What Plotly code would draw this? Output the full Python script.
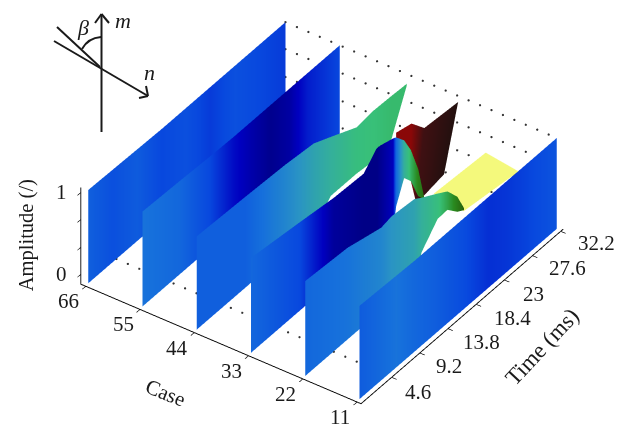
import numpy as np
import plotly.graph_objects as go

case_ticks = [66, 55, 44, 33, 22, 11]
time_ticks = [4.6, 9.2, 13.8, 18.4, 23, 27.6, 32.2]
time_labels = ["4.6", "9.2", "13.8", "18.4", "23", "27.6", "32.2"]
amp_ticks = [0, 0.33, 0.67, 1]
amp_labels = ["0", "", "", "1"]
FLOOR = -0.11

t66 = [0, 4, 8, 12, 16, 20, 24, 28, 32.2]
top66 = [1.03, 1.02, 1.01, 1, 1, 1, 1, 1, 1]
col66 = [.28, .24, .27, .22, .24, .2, .24, .22, .2]

t55 = [0, 6, 11, 15, 18, 21, 24, 27, 32.2]
top55 = [1.05, 1.03, 1.01, 1, 1, 1, 1, 1, 1]
col55 = [.33, .3, .22, .12, .07, .03, .06, .15, .22]

t44 = [0, 8, 14.5, 19.1, 21.9, 26.1, 28.4, 30.6, 32.2]
case44 = [44, 44, 44, 44, 44, 44, 43.5, 42.6, 41.4]
top44 = [1.03, 1, .97, .93, .83, .675, .74, .8, .88]
low44 = [FLOOR, FLOOR, FLOOR, FLOOR, .11, .11, .125, .26, .86]
col44 = [.28, .28, .38, .46, .5, .55, .56, .57, .57]

t33 = [0, 8, 13.5, 18.4, 20.6, 23.2, 23.7, 25, 26.1, 27.3, 28.3]
top33 = [1.05, .97, .91, .89, 1.07, 1.01, .99, .87, .68, .37, -.05]
low33 = [FLOOR, FLOOR, FLOOR, FLOOR, FLOOR, FLOOR, .15, .41, .30, .04, -.06]
col33 = [.3, .22, .05, .02, .02, .1, .3, .5, .58, .65, .68]

tail33_top_t = [24.5, 27, 29.1, 32.2]
tail33_low_t = [24.5, 26.8, 27.8, 29.9]
tail33_case = [34, 34, 34, 31]
tail33_top = [.97, .92, .73, .925]
tail33_low = [.76, .26, FLOOR, .19]
tail33_col = [.84, .84, .93, 1]

t22 = [0, 6.9, 12.4, 14.1, 17.8, 19, 20.8, 21.6, 22.4, 23.5]
case22 = [22, 22, 22, 22, 22, 22, 21, 20, 19, 19]
top22 = [1.05, 1.01, .9, .93, .9, .84, .8, .8, .71, .5]
low22 = [FLOOR, FLOOR, FLOOR, FLOOR, FLOOR, .175, .49, .575, .525, .475]
col22 = [.3, .33, .38, .42, .46, .5, .55, .6, .66, .7]

plateau_case = [[26, 25.4], [19.2, 18]]
plateau_time = [[24.2, 32.2], [23.6, 31.6]]
plateau_amp = 0.45

t11 = [0, 3, 6, 9, 13, 17, 21, 24, 27, 32.2]
top11 = [1.03, 1.02, 1.01, 1, 1, 1, 1, 1, 1, 1]
col11 = [.27, .3, .33, .3, .27, .23, .18, .19, .21, .25]

scale = [
    [0, "#00007a"], [.1, "#0000c0"], [.22, "#0848de"], [.32, "#1670dc"],
    [.42, "#2a94c4"], [.5, "#34b09a"], [.56, "#38c078"], [.64, "#2a8a20"],
    [.7, "#28600c"], [.78, "#8a1a0a"], [.84, "#8c0808"], [.93, "#401012"],
    [1, "#24100f"],
]
SERIF = "Liberation Serif"


def ribbon(case, t_top, t_low, top, low, col):
    n = len(t_top)
    case = [case] * n if np.isscalar(case) else case
    low = [low] * n if np.isscalar(low) else low
    return go.Surface(
        x=[case, case], y=[t_low, t_top], z=[low, top],
        surfacecolor=[col, col], cmin=0, cmax=1, colorscale=scale,
        showscale=False, hoverinfo="skip",
        lighting=dict(ambient=1, diffuse=0, specular=0, fresnel=0),
    )


fig = go.Figure()
fig.add_trace(ribbon(66, t66, t66, top66, FLOOR, col66))
fig.add_trace(ribbon(55, t55, t55, top55, FLOOR, col55))
fig.add_trace(ribbon(case44, t44, t44, top44, low44, col44))
fig.add_trace(ribbon(tail33_case, tail33_top_t, tail33_low_t, tail33_top, tail33_low, tail33_col))
fig.add_trace(ribbon(33, t33, t33, top33, low33, col33))
fig.add_trace(go.Surface(
    x=plateau_case, y=plateau_time, z=[[plateau_amp] * 2] * 2,
    surfacecolor=[[1, 1], [1, 1]], cmin=0, cmax=1,
    colorscale=[[0, "#f4f97c"], [1, "#f4f97c"]], showscale=False, hoverinfo="skip",
    lighting=dict(ambient=1, diffuse=0, specular=0, fresnel=0),
))
fig.add_trace(ribbon(case22, t22, t22, top22, low22, col22))
fig.add_trace(ribbon(11, t11, t11, top11, FLOOR, col11))

# dotted grid: rows on the far wall and one on the floor
dot_case = np.arange(66, 10.9, -2.32)
wx, wy, wz = [], [], []
for a in amp_ticks:
    wx += list(dot_case); wy += [32.2] * len(dot_case); wz += [a] * len(dot_case)
wx += list(dot_case); wy += [4.6] * len(dot_case); wz += [FLOOR] * len(dot_case)
fig.add_trace(go.Scatter3d(x=wx, y=wy, z=wz, mode="markers", hoverinfo="skip",
                           marker=dict(size=1.3, color="#333333", line=dict(width=0))))

base_axis = dict(showbackground=False, showgrid=False, zeroline=False, showline=True,
                 linecolor="black", linewidth=2, ticks="outside", tickcolor="black",
                 tickwidth=1.5, ticklen=6, showticklabels=False, showspikes=False,
                 title=dict(text=""))

tick_font = dict(family=SERIF, size=21, color="#1a1a1a")
time_dx = [26, 29, 33, 36, 29, 35, 36]
time_dy = [-15, -13, -13.5, -13.5, -14, -12, -12]
notes = []
for c in case_ticks:
    notes.append(dict(x=c, y=-0.4, z=-0.12, text=str(c), showarrow=False, xshift=-17, yshift=-15, font=tick_font))
for t, lab, dx, dy in zip(time_ticks, time_labels, time_dx, time_dy):
    notes.append(dict(x=10.2, y=t, z=-0.12, text=lab, showarrow=False, xshift=dx, yshift=dy, font=tick_font))
for a, lab in zip(amp_ticks, amp_labels):
    if lab:
        notes.append(dict(x=67, y=-0.4, z=a, text=lab, showarrow=False, xshift=-19, font=tick_font))
notes.append(dict(x=38, y=-0.4, z=-0.12, text="Case", showarrow=False, textangle=22, xshift=-58, yshift=-48,
                  font=dict(family=SERIF, size=21, color="#1a1a1a")))
notes.append(dict(x=10.2, y=22, z=-0.12, text="Time (ms)", showarrow=False, textangle=-47, xshift=44, yshift=-61,
                  font=dict(family=SERIF, size=23, color="#1a1a1a")))
notes.append(dict(x=67, y=-0.4, z=0.5, text="Amplitude (/)", showarrow=False, textangle=-90, xshift=-54, yshift=-2,
                  font=dict(family=SERIF, size=20.5, color="#1a1a1a")))

R = 1.5
CX, CY, CZ = 0.0, 0.0, -0.107
fig.update_layout(
    width=628, height=438, margin=dict(l=0, r=0, t=0, b=0),
    paper_bgcolor="white", showlegend=False,
    scene=dict(
        domain=dict(x=[0, 1], y=[0, 1]),
        xaxis=dict(base_axis, range=[67, 10.2], tickvals=case_ticks),
        yaxis=dict(base_axis, range=[-0.4, 32.6], tickvals=time_ticks),
        zaxis=dict(base_axis, range=[-0.12, 1.06], tickvals=amp_ticks),
        aspectmode="manual", aspectratio=dict(x=1.564, y=1.605, z=0.555),
        camera=dict(projection=dict(type="orthographic"), up=dict(x=0, y=0, z=1),
                    center=dict(x=CX, y=CY, z=CZ),
                    eye=dict(x=.457 * R + CX, y=-.650 * R + CY, z=.607 * R + CZ)),
        annotations=notes,
    ),
)

PAGE_MARGIN = 8


def px(x):
    return (x - PAGE_MARGIN) / 628


def py(y):
    return 1 - (y - PAGE_MARGIN) / 438


inset = [
    ((101.5, 132), (101.5, 14)), ((95, 23), (101.5, 14)), ((109, 23), (101.5, 14)),
    ((54, 41), (148, 96)), ((139, 98), (148, 96)), ((146, 86), (148, 96)),
    ((57, 27), (100, 67)),
]
for (a, b) in inset:
    fig.add_shape(type="line", xref="paper", yref="paper", x0=px(a[0]), y0=py(a[1]),
                  x1=px(b[0]), y1=py(b[1]), line=dict(color="#1a1a1a", width=2))
fig.add_shape(type="path", xref="paper", yref="paper", line=dict(color="#1a1a1a", width=2),
              path=f"M {px(82)} {py(49)} Q {px(88)} {py(38)} {px(101)} {py(37)}")
for txt, x, y in (("β", 83, 27), ("m", 123, 21), ("n", 149, 73)):
    fig.add_annotation(xref="paper", yref="paper", x=px(x), y=py(y), text=f"<i>{txt}</i>",
                       xanchor="center", yanchor="middle",
                       showarrow=False, font=dict(family=SERIF, size=22, color="#1a1a1a"))

fig.write_html("out.html")
